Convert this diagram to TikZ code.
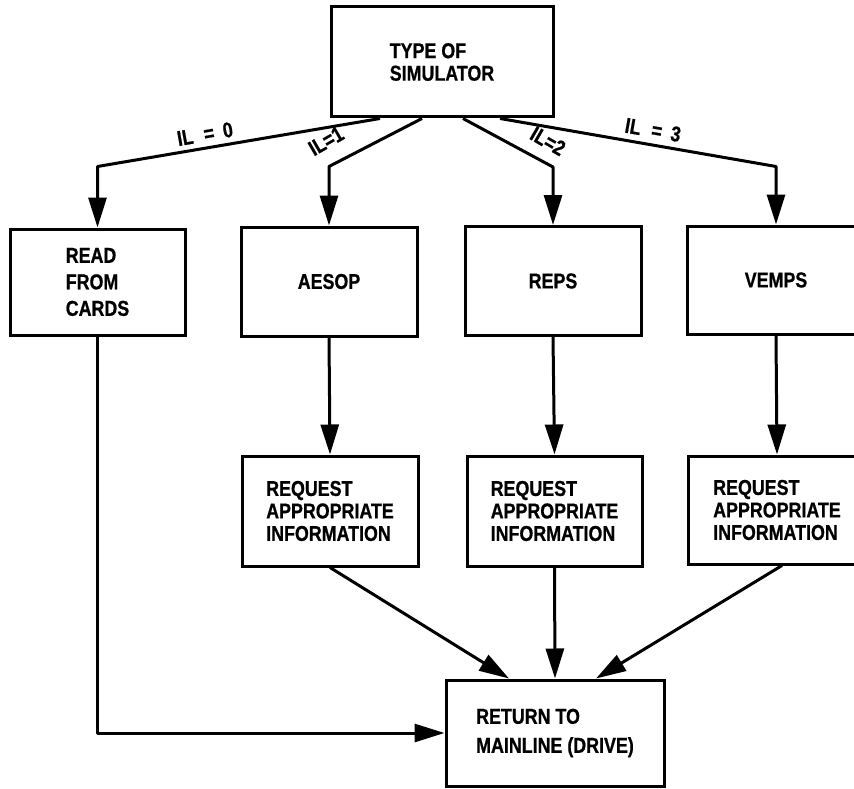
\documentclass[tikz,border=0pt]{standalone}
\usepackage{fontspec}
\newfontfamily\lab{Liberation Sans}[FakeStretch=0.83,FakeBold=0.8]
\usetikzlibrary{arrows.meta,calc}
\begin{document}
\begin{tikzpicture}[x=1pt,y=-1pt,
  txt/.style={font=\lab\bfseries\fontsize{21.5}{22.5}\selectfont},
  box/.style={draw, line width=3pt, inner sep=0pt, align=left, txt},
  arr/.style={line width=3pt, line join=round, -{Triangle[length=30pt,width=18pt]}},
  lbl/.style={txt, inner sep=0pt}]
\useasboundingbox (0,0) rectangle (854,789);
\node[box, minimum width=222pt, minimum height=110pt] (top) at (442,62) {TYPE OF\\SIMULATOR};
\node[box, minimum width=175pt, minimum height=106pt, font=\lab\bfseries\fontsize{21.5}{26.5}\selectfont] (read) at (97.5,282) {READ\\FROM\\CARDS};
\node[box, minimum width=176pt, minimum height=109pt] (aesop) at (329,281.5) {AESOP};
\node[box, minimum width=176pt, minimum height=109pt] (reps) at (553,281) {REPS};
\node[box, minimum width=178pt, minimum height=108pt] (vemps) at (776,280) {VEMPS};
\node[box, minimum width=176pt, minimum height=110pt] (reqa) at (330,511) {REQUEST\\APPROPRIATE\\INFORMATION};
\node[box, minimum width=175pt, minimum height=110pt] (reqr) at (554.5,511) {REQUEST\\APPROPRIATE\\INFORMATION};
\node[box, minimum width=178pt, minimum height=108pt] (reqv) at (777,510) {REQUEST\\APPROPRIATE\\INFORMATION};
\node[box, minimum width=218pt, minimum height=106pt, font=\lab\bfseries\fontsize{21.5}{29}\selectfont] (ret) at (555,733) {RETURN TO\\MAINLINE (DRIVE)};
% branches from the top box
\draw[arr] ($(top.south)+(-62,0)$) -- ([yshift=61pt]read.north) -- (read.north);
\draw[arr] ($(top.south)+(-20,0)$) -- ([yshift=59pt]aesop.north) -- (aesop.north);
\draw[arr] ($(top.south)+(21,0)$) -- ([yshift=58pt]reps.north) -- (reps.north);
\draw[arr] ($(top.south)+(58,0)$) -- ([yshift=58pt]vemps.north) -- (vemps.north);
\node[lbl, rotate=10] (l0) at (205,134) {IL\hspace{11pt}=\hspace{9pt}0};
\node[lbl, rotate=30] (l1) at (326,141) {IL=1};
\node[lbl, rotate=-30] (l2) at (548,141) {IL=2};
\node[lbl, rotate=-10] (l3) at (653,130) {IL\hspace{11pt}=\hspace{9pt}3};
% simulators to requests
\draw[arr] (aesop.south) -- (reqa.north);
\draw[arr] (reps.south) -- (reqr.north);
\draw[arr] (vemps.south) -- (reqv.north);
% to return
\draw[arr] (reqa.south) -- ($(ret.north)+(-46,0)$);
\draw[arr] (reqr.south) -- (ret.north);
\draw[arr] ($(reqv.south)+(5,0)$) -- ($(ret.north)+(41,0)$);
\draw[arr] (read.south) |- (ret.west);
\end{tikzpicture}
\end{document}
